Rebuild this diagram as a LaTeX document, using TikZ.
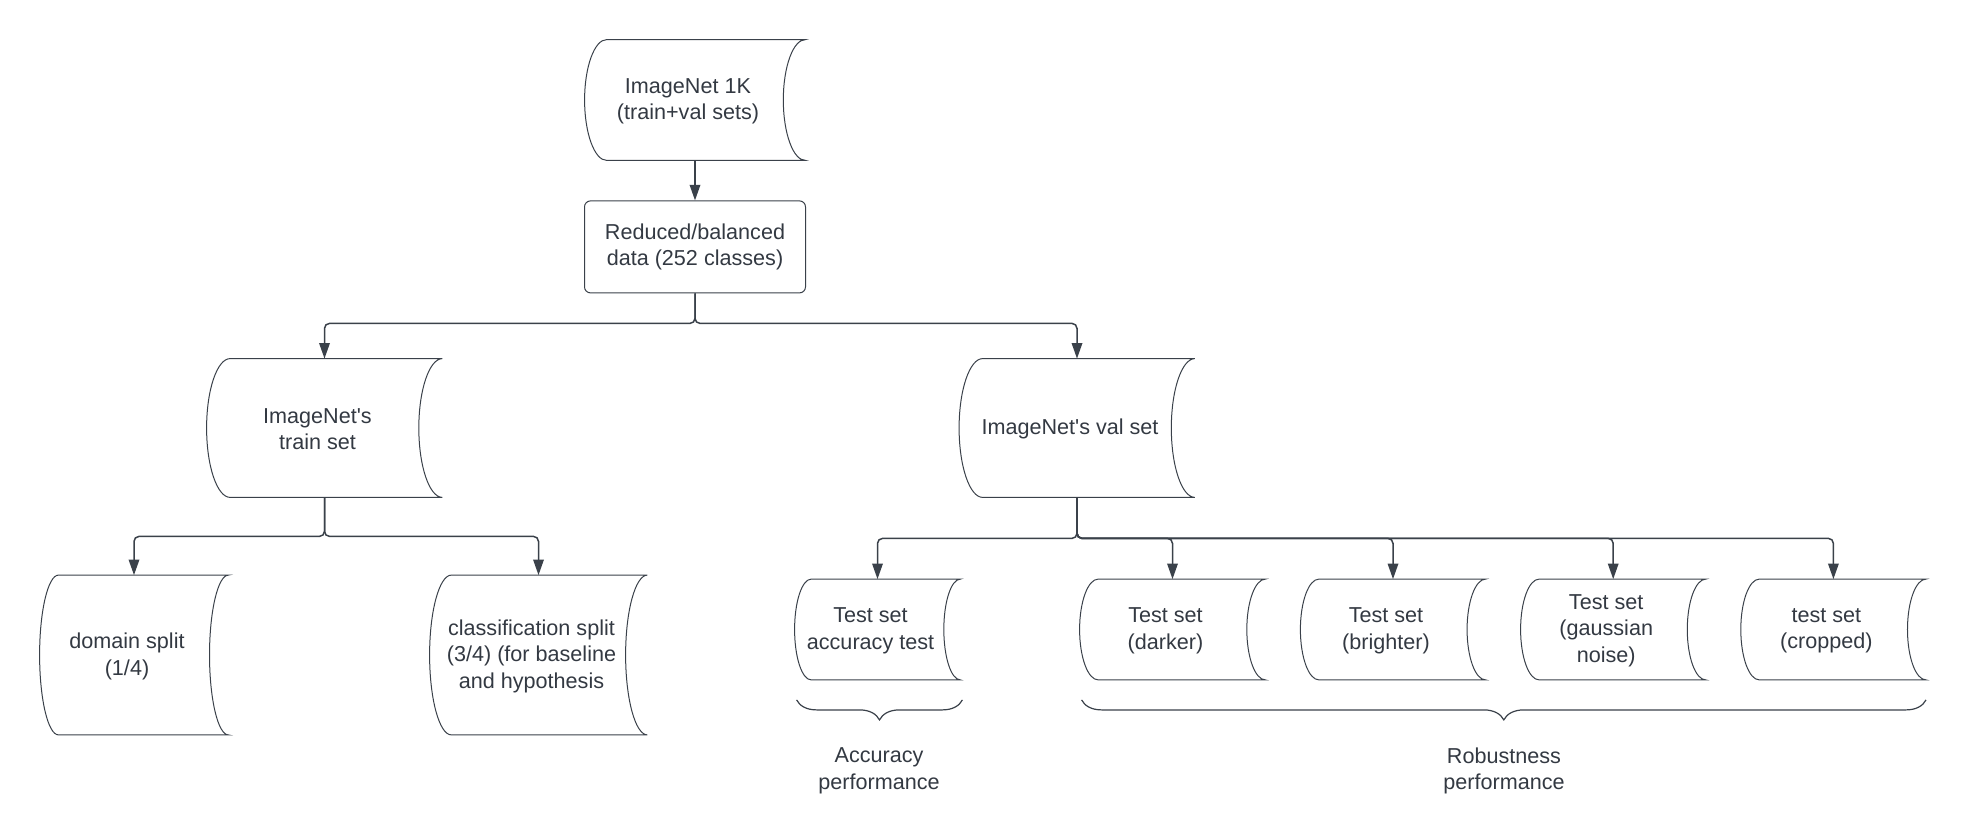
\documentclass[tikz,border=0pt]{standalone}
\usepackage{fontspec}
\setmainfont{Liberation Sans}
\usetikzlibrary{positioning,arrows.meta,calc,decorations.pathreplacing}
\definecolor{colorline}{RGB}{58 ,65 ,74 }
\definecolor{colortext}{RGB}{51 ,57 ,66 }

% outline of a "stored data" node, drawn on the node's box
\newcommand{\storedshape}[1]{%
  \draw[shape line] let \p1=(#1.north east), \p2=(#1.south west),
      \n1={0.5*(\y1-\y2)}, \n2={0.1*(\x1-\x2)} in
    ([xshift=\n2]#1.north west) -- (#1.north east)
    arc[start angle=90,end angle=270,x radius=\n2,y radius=\n1]
    -- ([xshift=\n2]#1.south west)
    arc[start angle=270,end angle=90,x radius=\n2,y radius=\n1] -- cycle;}

\begin{document}
\begin{tikzpicture}[
    x=0.5pt, y=-0.5pt,
    txt/.style={text=colortext,font={\fontsize{10.8pt}{13.3pt}\selectfont},align=center},
    store/.style 2 args={minimum width=#1,minimum height=#2,inner sep=0pt},
    store text/.style={label={[txt,xshift=-3.5pt,yshift=-0.6pt]center:#1}},
    shape line/.style={draw=colorline,line width=0.5pt},
    conn/.style={draw=colorline,line width=0.75pt,rounded corners=2.5pt,
        -{Triangle[length=7.8pt,width=5.3pt]}},
    split/.style={draw=colorline,line width=0.6pt,
        decorate,decoration={brace,mirror,amplitude=10pt}},
]
    \useasboundingbox (0,0) rectangle (1967,840);

    \node[store={110pt}{60pt},store text={ImageNet 1K\\(train+val sets)}] (imnet) at (695,100) {};
    \node[txt,draw=colorline,line width=0.5pt,rounded corners=3pt,
          minimum width=110.5pt,minimum height=46pt,below=20pt of imnet] (reduced)
          {Reduced/balanced\\data (252 classes)};

    \node[store={117.5pt}{69pt},store text={ImageNet\textquotesingle s\\train set}] (trainset) at (324.5,428) {};
    \node[store={117.5pt}{69pt},store text={ImageNet\textquotesingle s val set}]   (valset)   at (1077,428)  {};

    \node[store={94pt}{79.5pt},store text={domain split\\(1/4)}] (domain) at (134,655) {};
    \node[store={108.5pt}{79.5pt},
          store text={classification split\\(3/4) (for baseline\\and hypothesis}] (classif) at (538.5,655) {};

    \node[store={82.5pt}{50pt},store text={Test set\\accuracy test}] (taccu) at (877.5,629.5) {};
    \node[store={92.5pt}{50pt},store text={Test set\\(darker)}]      (tdark) at (1172.5,629.5) {};
    \node[store={92.2pt}{50pt},store text={Test set\\(brighter)},right=17.5pt of tdark]          (tbright) {};
    \node[store={92.2pt}{50pt},store text={Test set\\(gaussian\\noise)},right=17.5pt of tbright] (tnoise)  {};
    \node[store={92.2pt}{50pt},store text={test set\\(cropped)},right=17.5pt of tnoise]          (tcrop)   {};

    \foreach \s in {imnet,trainset,valset,domain,classif,taccu,tdark,tbright,tnoise,tcrop}
        \storedshape{\s};

    % connectors
    \draw[conn] (imnet.south) -- (reduced.north);
    \draw[conn] (reduced.south) -- ++(0,-15pt) -| (trainset.north);
    \draw[conn] (reduced.south) -- ++(0,-15pt) -| (valset.north);
    \draw[conn] (trainset.south) -- ++(0,-19.5pt) -| (domain.north);
    \draw[conn] (trainset.south) -- ++(0,-19.5pt) -| (classif.north);
    \foreach \t in {taccu,tdark,tbright,tnoise,tcrop}
        \draw[conn] (valset.south) -- ++(0,-20.5pt) -| (\t.north);

    % braces
    \draw[split] ([xshift=1pt,yshift=-10pt]taccu.south west) -- ([xshift=1pt,yshift=-10pt]taccu.south east);
    \draw[split] ([xshift=1pt,yshift=-10pt]tdark.south west) -- ([yshift=-10pt]tcrop.south east);

    \node[txt] (accperf) at (879,771)  {Accuracy\\performance};
    \node[txt] (robperf) at (1504,771) {Robustness\\performance};

\end{tikzpicture}
\end{document}
